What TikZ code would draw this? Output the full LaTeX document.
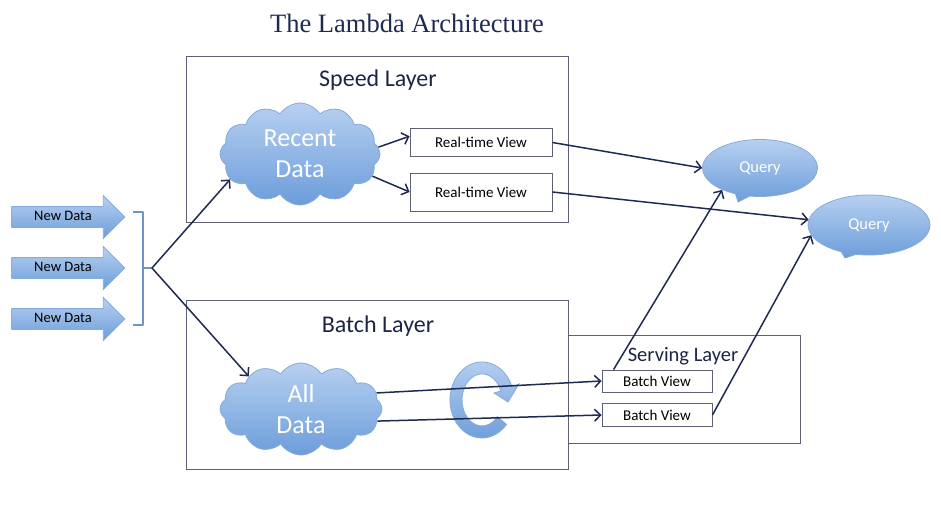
\documentclass[tikz,border=0pt]{standalone}
\usepackage{fontspec}
\setmainfont{Carlito}
\newfontfamily\titlefont{Liberation Serif}
\usetikzlibrary{shapes.symbols,shapes.callouts,shapes.arrows,arrows.meta}
\definecolor{navy}{HTML}{1F2A52}
\definecolor{inkblue}{HTML}{1C2544}
\definecolor{boxgray}{HTML}{5D6075}
\definecolor{skytop}{HTML}{B7D0F0}
\definecolor{skybot}{HTML}{6C9DDA}
\definecolor{skyedge}{HTML}{86ABDA}
\definecolor{bracketblue}{HTML}{6F95C8}

\begin{document}
\begin{tikzpicture}[x=1pt,y=-1pt,
  layerbox/.style={draw=boxgray,line width=0.9pt,inner sep=0pt},
  layertitle/.style={text=inkblue,font=\fontsize{24}{28}\selectfont},
  viewbox/.style={draw=boxgray,line width=0.9pt,fill=white,inner sep=0pt,text=black,font=\fontsize{15}{17}\selectfont},
  cloudnode/.style={cloud,cloud puffs=12,cloud puff arc=115,aspect=1.6,inner sep=0pt,
    top color=skytop,bottom color=skybot,draw=skyedge,line width=0.8pt,
    text=white,align=center,font=\fontsize{26}{31}\selectfont},
  querynode/.style={ellipse callout,inner sep=0pt,top color=skytop,bottom color=skybot,
    draw=skyedge,line width=0.8pt,text=white,font=\fontsize{16.5}{18}\selectfont},
  newdata/.style={single arrow,single arrow head extend=11pt,minimum height=113pt,
    inner ysep=4pt,text height=9pt,text depth=3pt,top color=skytop,bottom color=skybot,
    draw=skyedge,line width=0.8pt,text=black,font=\fontsize{14.5}{16}\selectfont},
  flow/.style={draw=navy,line width=1.5pt,-{Straight Barb[length=6pt,width=12pt]}}]
\useasboundingbox (0,0) rectangle (941,505);

\node[text=navy,font=\titlefont\fontsize{26.5}{30}\selectfont] (title) at (407,23) {The Lambda Architecture};

% layers
\node[layerbox,minimum width=382pt,minimum height=166pt] (speed) at (377,139) {};
\node[layertitle] (speedlabel) at (378,80) {Speed Layer};
\node[layerbox,minimum width=382pt,minimum height=169pt] (batch) at (377,384.5) {};
\node[layertitle] (batchlabel) at (378,326) {Batch Layer};
\node[layerbox,fill=white,minimum width=232pt,minimum height=108pt] (serving) at (684,389) {};
\node[layertitle,font=\fontsize{20.5}{24}\selectfont] (servinglabel) at (683,356) {Serving Layer};

% incoming data
\node[newdata] (nd1) at (63,217) {New Data};
\node[newdata] (nd2) at (63,268) {New Data};
\node[newdata] (nd3) at (63,319) {New Data};
\draw[bracketblue,line width=2.6pt,line join=round] (133,212) -- (143,212) -- (143,325) -- (133,325);
\draw[bracketblue,line width=2.6pt] (143,268) -- (152,268) coordinate (fork);

\node[cloudnode,minimum width=160pt,minimum height=102pt] (recent) at (300,154) {Recent\\Data};
\node[cloudnode,minimum width=162pt,minimum height=92pt] (all) at (301,409) {All\\Data};

\node[viewbox,minimum width=142pt,minimum height=28pt] (rt1) at (481,142.5) {Real-time View};
\node[viewbox,minimum width=142pt,minimum height=38pt] (rt2) at (481,192) {Real-time View};
\node[viewbox,minimum width=110pt,minimum height=22pt] (bv1) at (657,381) {Batch View};
\node[viewbox,minimum width=110pt,minimum height=23pt] (bv2) at (657,415) {Batch View};

\node[querynode,minimum width=115pt,minimum height=57pt,callout absolute pointer={(738,202)}] (q1) at (760,168) {Query};
\node[querynode,minimum width=122pt,minimum height=60pt,callout absolute pointer={(845,258)}] (q2) at (869,225) {Query};

% recompute loop
\shade[top color=skytop,bottom color=skybot,draw=skyedge,line width=0.8pt]
  (506.5,424.4) arc[start angle=40,end angle=340,x radius=32,y radius=38]
  -- (519,384) -- (508,402) -- (494,393)
  -- (500.8,391) arc[start angle=340,end angle=40,x radius=20,y radius=26] -- cycle;

% connectors
\draw[flow] (fork) -- (recent.200);
\draw[flow] (fork) -- (all.148);
\draw[flow] (recent.5) -- (rt1.175);
\draw[flow] (recent.-17) -- (rt2.west);
\draw[flow] (all.12) -- (bv1.west);
\draw[flow] (all.-9) -- (bv2.west);
\draw[flow] (rt1.east) -- (q1.west);
\draw[flow] (rt2.east) -- (q2.175);
\draw[flow] ([xshift=12pt]bv1.north west) -- (q1.210);
\draw[flow] (bv2.east) -- (q2.190);
\end{tikzpicture}
\end{document}
